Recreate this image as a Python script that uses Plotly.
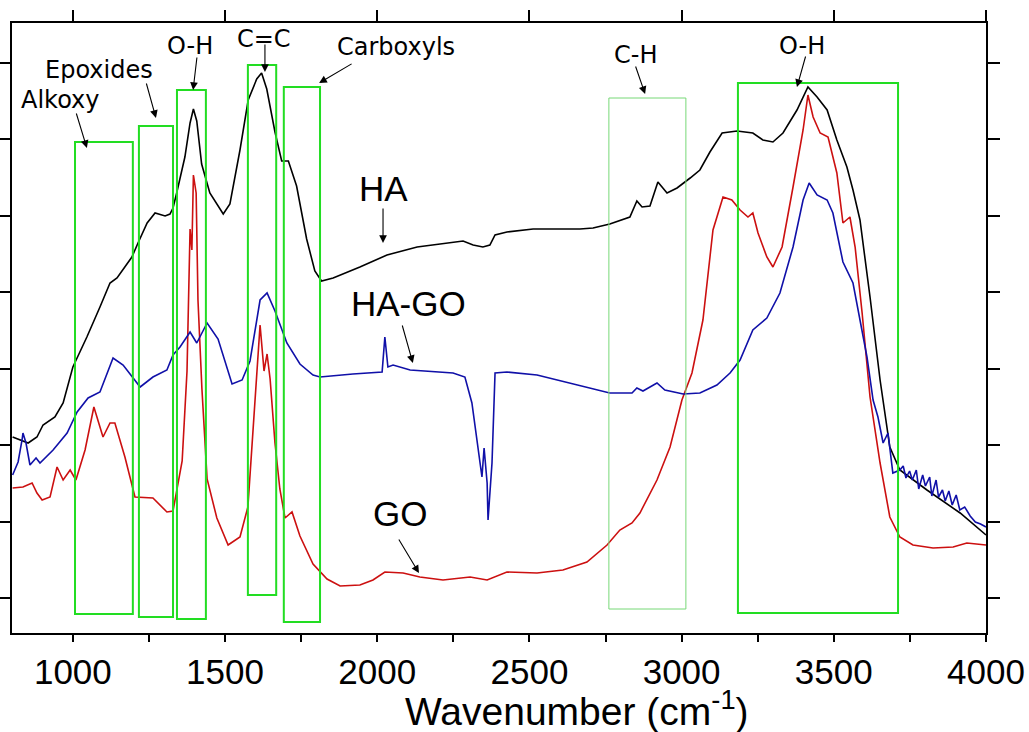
import plotly.graph_objects as go

# ---------------- data (wavenumber in cm-1, intensity in arbitrary units) ----------------
wn_ha = [802, 853, 882, 902, 941, 968, 1000, 1046, 1089, 1122, 1145, 1194, 1214, 1244, 1270, 1303, 1319, 1329,
         1341, 1368, 1385, 1396, 1407, 1423, 1450, 1494, 1516, 1549, 1576, 1604, 1620, 1637, 1664, 1686, 1708,
         1735, 1768, 1795, 1817, 1855, 1943, 2032, 2131, 2282, 2315, 2347, 2370, 2387, 2426, 2512, 2666, 2709,
         2764, 2830, 2853, 2870, 2896, 2922, 2952, 2985, 3028, 3060, 3093, 3133, 3182, 3234, 3267, 3300, 3333,
         3379, 3415, 3445, 3478, 3510, 3543, 3563, 3586, 3619, 3652, 3684, 3717, 3806, 3915, 4000]
ha = [203, 197, 203, 215, 223, 237, 273, 303, 333, 357, 362, 383, 397, 417, 427, 424, 426, 432,
      447, 483, 517, 531, 519, 476, 447, 426, 436, 490, 540, 561, 567, 551, 508, 479, 479,
      454, 401, 369, 359, 362, 373, 385, 393, 399, 395, 393, 395, 405, 408, 411, 411, 412,
      416, 423, 439, 433, 434, 458, 447, 452, 462, 470, 488, 507, 509, 507, 500, 498, 507,
      530, 553, 543, 530, 500, 473, 450, 420, 343, 260, 193, 170, 150, 127, 105]

wn_hago = [802, 820, 833, 836, 846, 859, 879, 892, 935, 981, 1014, 1050, 1089, 1112, 1132, 1165, 1194, 1221,
           1263, 1309, 1329, 1352, 1385, 1407, 1441, 1477, 1523, 1556, 1582, 1615, 1638, 1664, 1703, 1746, 1789,
           1812, 1920, 2016, 2025, 2035, 2052, 2108, 2249, 2288, 2311, 2328, 2344, 2351, 2361, 2364, 2377, 2387,
           2426, 2525, 2633, 2764, 2837, 2853, 2873, 2919, 2945, 3005, 3060, 3116, 3159, 3192, 3234, 3280, 3323,
           3366, 3399, 3419, 3445, 3478, 3497, 3530, 3563, 3586, 3609, 3629, 3645, 3662, 3678, 3694, 3717, 3728,
           3737, 3749, 3758, 3771, 3779, 3792, 3801, 3815, 3822, 3836, 3844, 3857, 3866, 3878, 3889, 3902, 3914,
           3930, 3948, 3965, 3982, 4000]
hago = [165, 178, 200, 207, 197, 175, 182, 177, 190, 207, 228, 242, 248, 267, 282, 275, 263, 253,
        263, 270, 285, 293, 308, 297, 317, 301, 256, 260, 279, 340, 347, 329, 297, 276, 265,
        263, 266, 268, 303, 273, 275, 270, 267, 263, 237, 197, 163, 192, 157, 120, 177, 267,
        268, 265, 257, 247, 247, 252, 249, 257, 250, 246, 247, 255, 267, 280, 310, 322, 347,
        393, 440, 457, 445, 440, 427, 378, 357, 320, 283, 240, 223, 197, 207, 167, 170, 174,
        162, 169, 160, 170, 151, 165, 154, 163, 144, 160, 143, 150, 139, 149, 135, 145, 130,
        133, 124, 118, 116, 113]

wn_go = [802, 836, 866, 882, 899, 925, 948, 968, 991, 1010, 1040, 1069, 1099, 1122, 1138, 1171, 1204, 1244,
         1263, 1309, 1329, 1359, 1375, 1385, 1391, 1396, 1405, 1411, 1424, 1441, 1473, 1510, 1549, 1575, 1598,
         1615, 1628, 1638, 1648, 1664, 1680, 1697, 1720, 1746, 1789, 1835, 1878, 1943, 1986, 2025, 2085, 2140,
         2216, 2305, 2361, 2426, 2525, 2610, 2689, 2755, 2797, 2837, 2863, 2919, 2962, 3001, 3034, 3070, 3103,
         3136, 3165, 3192, 3218, 3234, 3251, 3280, 3300, 3330, 3366, 3399, 3415, 3432, 3455, 3481, 3510, 3530,
         3553, 3570, 3593, 3619, 3652, 3684, 3717, 3760, 3826, 3892, 3937, 4000]
go_ = [152, 153, 157, 147, 140, 143, 173, 160, 170, 160, 190, 233, 203, 217, 217, 183, 143, 142,
       142, 128, 129, 179, 269, 411, 390, 465, 447, 340, 251, 161, 122, 95, 103, 133, 233,
       315, 269, 286, 261, 197, 151, 122, 128, 104, 76, 61, 54, 55, 60, 68, 67, 63,
       60, 63, 60, 68, 67, 70, 78, 95, 110, 117, 127, 160, 193, 240, 267, 320, 410,
       443, 440, 430, 423, 427, 407, 383, 373, 393, 453, 510, 545, 523, 507, 503, 467, 417,
       423, 393, 327, 243, 177, 123, 103, 95, 92, 93, 97, 95]

# highlighted bands
band_x0 = [1007, 1217, 1342, 1575, 1693, 2761, 3185]
band_x1 = [1197, 1329, 1437, 1668, 1812, 3014, 3711]
band_y0 = [26, 23, 21, 45, 18, 31, 27]
band_y1 = [498, 514, 550, 575, 553, 542, 557]

# band labels: text, text position, arrow head, arrow tail offset (pixels)
lab_text = ["Alkoxy", "Epoxides", "O-H", "C=C", "Carboxyls", "C-H", "O-H"]
lab_x = [958, 1086, 1385, 1628, 2062, 2847, 3395]
lab_y = [540, 570, 594, 601, 593, 585, 594]
lab_hx = [1046, 1273, 1395, 1631, 1809, 2880, 3379]
lab_hy = [492, 522, 550, 568, 557, 546, 553]
lab_ax = [-11, -10, 4, 0, 34, -10, 9]
lab_ay = [-36, -36, -34, -29, -20, -29, -32]

ser_text = ["HA", "HA-GO", "GO"]
ser_x = [2022, 2104, 2075]
ser_y = [452, 337, 127]
ser_hx = [2019, 2117, 2137]
ser_hy = [397, 277, 67]
ser_ax = [0, -11, -21]
ser_ay = [-36, -39, -35]

x_range = [800, 4000]
y_range = [7, 617]
y_ticks = [42, 118.5, 195, 271.5, 348, 424.5, 501, 577.5]

# ---------------- figure ----------------
fig = go.Figure()
fig.add_trace(go.Scatter(x=wn_ha, y=ha, mode="lines", line=dict(color="#000000", width=1.6),
                         name="HA", showlegend=False, hoverinfo="skip"))
fig.add_trace(go.Scatter(x=wn_go, y=go_, mode="lines", line=dict(color="#cc1010", width=1.6),
                         name="GO", showlegend=False, hoverinfo="skip"))
fig.add_trace(go.Scatter(x=wn_hago, y=hago, mode="lines", line=dict(color="#1010a8", width=1.6),
                         name="HA-GO", showlegend=False, hoverinfo="skip"))
# dummy trace so the top axis is drawn
fig.add_trace(go.Scatter(x=x_range, y=[None, None], xaxis="x2", mode="lines",
                         showlegend=False, hoverinfo="skip"))

for i in range(len(band_x0)):
    thin = (i == 5)
    fig.add_shape(type="rect", xref="x", yref="y", x0=band_x0[i], x1=band_x1[i],
                  y0=band_y0[i], y1=band_y1[i], layer="above",
                  line=dict(color="#77d877" if thin else "#22dd22", width=1 if thin else 2))

small_font = dict(family="DejaVu Sans", size=24, color="black")
big_font = dict(family="Liberation Sans, Arial", size=35, color="black")

for t, x, y in zip(lab_text, lab_x, lab_y):
    fig.add_annotation(x=x, y=y, xref="x", yref="y", text=t, showarrow=False, font=small_font)
for hx, hy, ax, ay in zip(lab_hx, lab_hy, lab_ax, lab_ay):
    fig.add_annotation(x=hx, y=hy, xref="x", yref="y", text="", showarrow=True, ax=ax, ay=ay,
                       arrowhead=2, arrowsize=1.4, arrowwidth=1.1, arrowcolor="black", standoff=0)
for t, x, y in zip(ser_text, ser_x, ser_y):
    fig.add_annotation(x=x, y=y, xref="x", yref="y", text=t, showarrow=False, font=big_font)
for hx, hy, ax, ay in zip(ser_hx, ser_hy, ser_ax, ser_ay):
    fig.add_annotation(x=hx, y=hy, xref="x", yref="y", text="", showarrow=True, ax=ax, ay=ay,
                       arrowhead=2, arrowsize=1.4, arrowwidth=1.1, arrowcolor="black", standoff=0)

fig.add_annotation(x=0.58, y=-0.124, xref="paper", yref="paper", showarrow=False,
                   text="Wavenumber (cm<sup>-1</sup>)", yanchor="middle",
                   font=dict(family="Liberation Sans, Arial", size=39, color="black"))

fig.update_layout(
    width=1029, height=732,
    margin=dict(l=12, r=43, t=23, b=99, autoexpand=False),
    paper_bgcolor="white", plot_bgcolor="white",
    xaxis=dict(range=x_range, tickmode="linear", tick0=0, dtick=500, automargin=False,
               ticks="outside", ticklen=7, tickwidth=1.5, tickcolor="black",
               minor=dict(tickmode="linear", tick0=0, dtick=250, ticks="outside", ticklen=7,
                          tickwidth=1.5, tickcolor="black"),
               showline=True, linecolor="black", linewidth=2, mirror=True,
               showgrid=False, zeroline=False,
               tickfont=dict(family="Liberation Sans, Arial", size=35, color="black")),
    xaxis2=dict(range=x_range, overlaying="x", side="top", anchor="y", automargin=False,
                tickmode="array", tickvals=[1000, 1500, 2000, 2500, 3000, 3500, 4000],
                ticks="outside", ticklen=12, tickwidth=1.5, tickcolor="black",
                showticklabels=False, showline=False, showgrid=False, zeroline=False),
    yaxis=dict(range=y_range, tickmode="array", tickvals=y_ticks, showticklabels=False,
               automargin=False,
               ticks="outside", ticklen=12, tickwidth=1.5, tickcolor="black",
               showline=True, linecolor="black", linewidth=2, mirror="ticks",
               showgrid=False, zeroline=False),
    showlegend=False,
)

fig.write_html("out.html")
